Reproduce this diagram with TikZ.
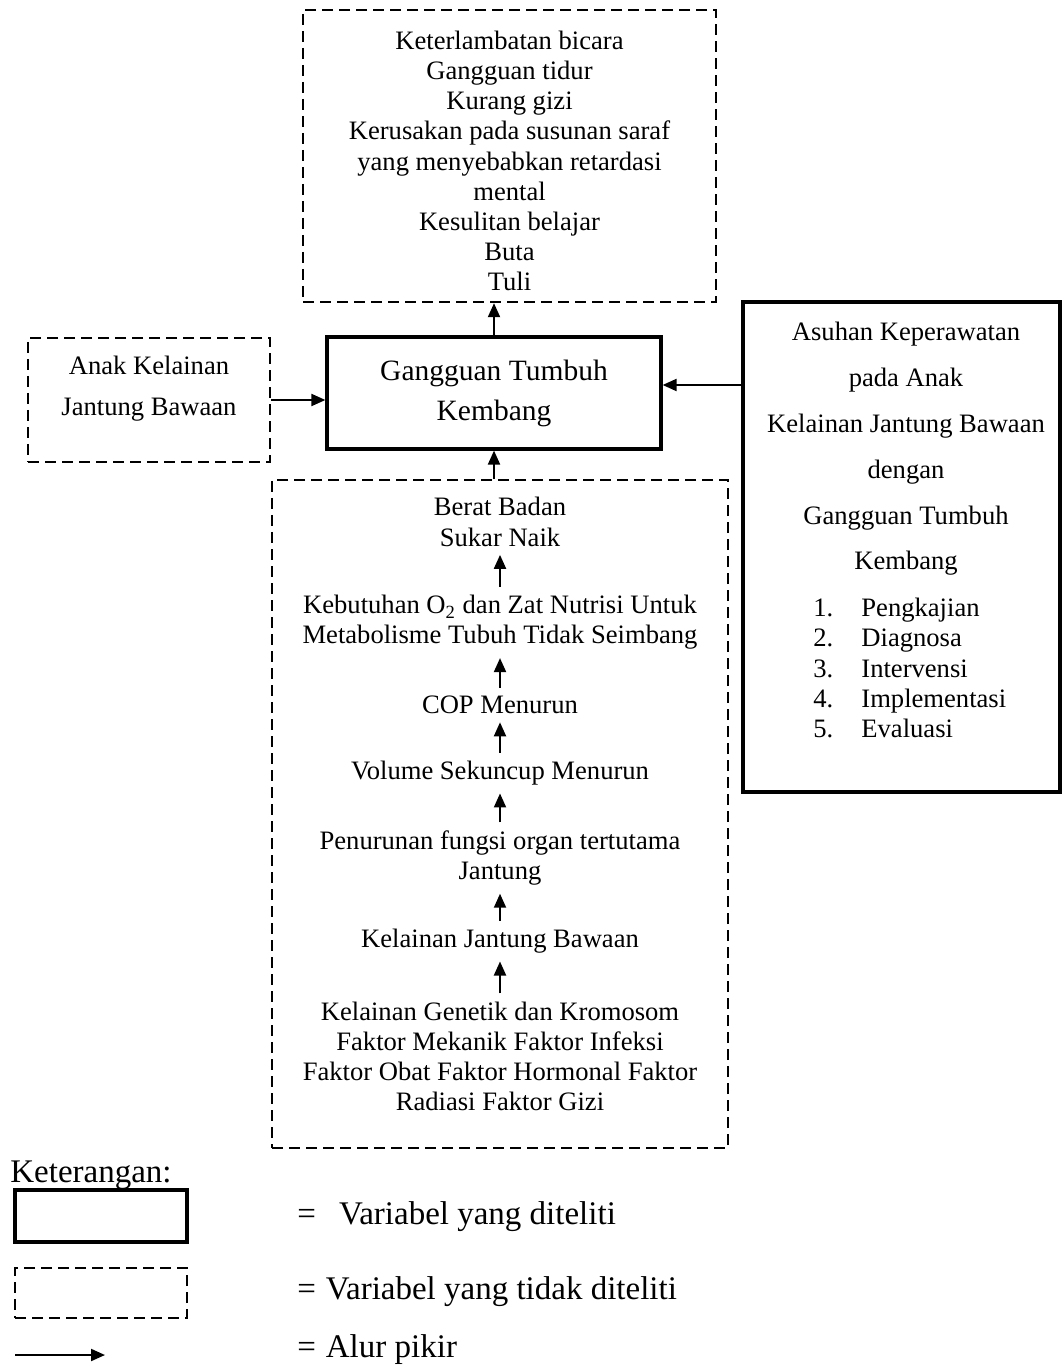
\documentclass[tikz,border=0pt]{standalone}
\usepackage{fontspec}
\setmainfont{Liberation Serif}
\usepackage{tikz}
\usetikzlibrary{positioning,arrows.meta}

\begin{document}
\begin{tikzpicture}[
  x=0.5pt, y=-0.5pt,
  font=\fontsize{13.3}{15.1}\selectfont,
  dashbox/.style={draw,line width=1.2pt,dash pattern=on 5.5pt off 3pt,align=center},
  solidbox/.style={draw,line width=1.6pt,align=center},
  txt/.style={align=center,inner sep=4pt},
  alur/.style={-{Triangle[length=7pt,width=6pt]},line width=1pt},
  ket/.style={anchor=west,inner sep=0pt,font=\fontsize{16.5}{19}\selectfont},
]
  \useasboundingbox (0,0) rectangle (1062,1368);

  % kotak variabel
  \node[solidbox,minimum width=167pt,minimum height=56pt,font=\fontsize{14.75}{20}\selectfont] (gtk) at (494,393) {Gangguan Tumbuh\\Kembang};
  \node[dashbox,minimum width=206.5pt,minimum height=146pt] (dampak) at (509.5,156) {};
  \node[txt] (dampakteks) at (509.5,161) {Keterlambatan bicara\\Gangguan tidur\\Kurang gizi\\Kerusakan pada susunan saraf\\yang menyebabkan retardasi\\mental\\Kesulitan belajar\\Buta\\Tuli};
  \node[dashbox,minimum width=121pt,minimum height=62pt] (anak) at (149,400) {};
  \node[txt,font=\fontsize{13.3}{20.5}\selectfont] (anakteks) at (149,389) {Anak Kelainan\\Jantung Bawaan};
  \node[dashbox,minimum width=228pt,minimum height=334pt] (penyebab) at (500,814) {};
  \node[solidbox,minimum width=158.5pt,minimum height=245pt] (asuhan) at (901.5,547) {};

  % isi kotak asuhan
  \node[txt,font=\fontsize{13.3}{22.9}\selectfont] (judul) at (906,449) {Asuhan Keperawatan\\pada Anak\\Kelainan Jantung Bawaan\\dengan\\Gangguan Tumbuh\\Kembang};
  \node[txt,align=left,anchor=west] (tahap) at (805,668) {\makebox[24pt][l]{1.}Pengkajian\\\makebox[24pt][l]{2.}Diagnosa\\\makebox[24pt][l]{3.}Intervensi\\\makebox[24pt][l]{4.}Implementasi\\\makebox[24pt][l]{5.}Evaluasi};

  % rantai penyebab
  \node[txt] (bb) at (500,522) {Berat Badan\\Sukar Naik};
  \node[txt] (o2) at (500,622.5) {Kebutuhan O\textsubscript{2} dan Zat Nutrisi Untuk\\Metabolisme Tubuh Tidak Seimbang};
  \node[txt] (cop) at (500,705) {COP Menurun};
  \node[txt] (vol) at (500,773) {Volume Sekuncup Menurun};
  \node[txt] (fungsi) at (500,858) {Penurunan fungsi organ tertutama\\Jantung};
  \node[txt] (kjb) at (500,941) {Kelainan Jantung Bawaan};
  \node[txt] (faktor) at (500,1056.5) {Kelainan Genetik dan Kromosom\\Faktor Mekanik Faktor Infeksi\\Faktor Obat Faktor Hormonal Faktor\\Radiasi Faktor Gizi};

  \foreach \a/\b in {faktor/kjb,kjb/fungsi,fungsi/vol,vol/cop,cop/o2,o2/bb}
    \draw[alur] (\a) -- (\b);

  % alur ke variabel utama
  \draw[alur] (gtk.north) -- (gtk.north |- dampak.south);
  \draw[alur] (gtk.south |- penyebab.north) -- (gtk.south);
  \draw[alur] (anak.east) -- (anak.east -| gtk.west);
  \draw[alur] ([yshift=4pt]gtk.east -| asuhan.west) -- ([yshift=4pt]gtk.east);

  % keterangan
  \node[ket] (judulket) at (10,1175) {Keterangan:};
  \node[solidbox,minimum width=86pt,minimum height=26pt] (lg1) at (101,1216) {};
  \node[dashbox,minimum width=86pt,minimum height=25pt] (lg2) at (101,1293) {};
  \coordinate (lg3a) at (15,1355);
  \coordinate (lg3b) at (105,1355);
  \draw[alur] (lg3a) -- (lg3b);
  \node[ket] (ket1) at (297,1217) {=\hspace{0.7em}Variabel yang diteliti};
  \node[ket] (ket2) at (297,1292) {=\hspace{0.3em}Variabel yang tidak diteliti};
  \node[ket] (ket3) at (297,1350) {=\hspace{0.3em}Alur pikir};
\end{tikzpicture}
\end{document}
